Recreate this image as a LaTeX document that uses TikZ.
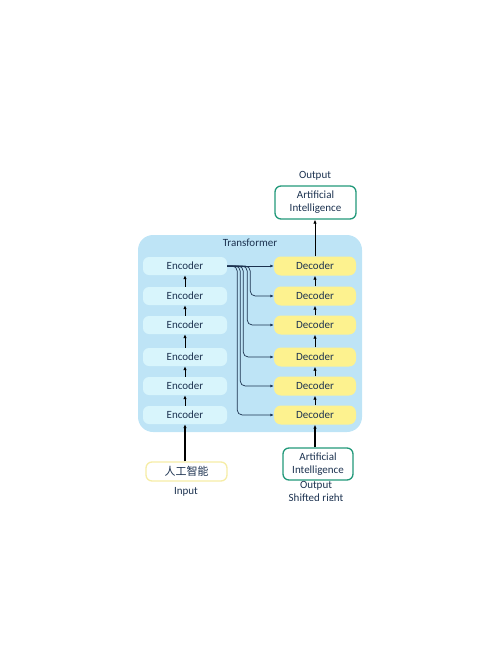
\documentclass[tikz,border=0pt]{standalone}
\usepackage{fontspec}
\setmainfont{Carlito}
\newfontfamily\cjk{Noto Sans CJK SC}
\usetikzlibrary{positioning,arrows.meta,calc}
\definecolor{panel}{HTML}{BEE4F6}
\definecolor{encfill}{HTML}{D8F5FC}
\definecolor{decfill}{HTML}{FDF28F}
\definecolor{aigreen}{HTML}{22997A}
\definecolor{inyellow}{HTML}{F6EDA6}
\definecolor{ink}{HTML}{1C3250}

\begin{document}
\begin{tikzpicture}[x=1pt, y=-1pt, font=\fontsize{11}{13}\selectfont, text=ink,
  enc/.style={fill=encfill, rounded corners=6pt, minimum width=84pt, minimum height=18pt, inner sep=0pt},
  dec/.style={fill=decfill, rounded corners=7pt, minimum width=82pt, minimum height=19pt, inner sep=0pt},
  ai/.style={draw=aigreen, line width=1.3pt, fill=white, rounded corners=6pt, align=center, inner sep=0pt},
  arr/.style={-{Latex[length=4pt,width=3.5pt]}, draw=black, line width=1pt},
  fan/.style={-{Latex[length=3.5pt,width=3pt]}, draw=ink, line width=0.7pt, rounded corners=5pt}]
  \useasboundingbox (0,0) rectangle (500,646);
  \fill[panel, rounded corners=15pt] (138,235) rectangle (362,432);
  \node (TITLE) at (250,243) {Transformer};
  \foreach \i/\y in {1/266,2/296,3/325,4/357,5/386,6/415} {
    \node (ENC\i) [enc] at (185,\y) {Encoder};
    \node (DEC\i) [dec] at (315,\y) {Decoder};
  }
  \foreach \i [evaluate=\i as \j using int(\i+1)] in {1,...,5} {
    \draw[arr, line width=0.9pt] (ENC\j.north) -- (ENC\i.south);
    \draw[arr, line width=0.9pt] (DEC\j.north) -- (DEC\i.south);
  }
  \draw[fan] (ENC1.east) -- (DEC1.west);
  \foreach \i/\x in {2/250,3/247,4/243,5/240,6/237}
    \draw[fan] (ENC1.east) -- ++(\x-227,0) |- (DEC\i.west);

  \node (OUTLBL) at (315,176) {Output};
  \node (AIOUT) [ai, minimum width=81pt, minimum height=33pt] at (315.5,202.5) {Artificial\\Intelligence};
  \draw[arr] (DEC1.north) -- (AIOUT.south -| DEC1.north);

  \node (INPUT) [draw=inyellow, line width=1.3pt, fill=white, rounded corners=6pt,
    minimum width=81pt, minimum height=19pt, inner sep=0pt] at (186.5,471.5) {\cjk 人工智能};
  \node (INLBL) at (186,492) {Input};
  \draw[arr, line width=1.3pt] (INPUT.north -| ENC6.south) -- (ENC6.south);

  \node (AIIN) [ai, minimum width=70pt, minimum height=32pt] at (318,464) {Artificial\\Intelligence};
  \draw[arr, line width=1.3pt] (AIIN.north -| DEC6.south) -- (DEC6.south);
  \node (SHLBL) at (316,486) {Output};
  \begin{scope}
    \clip (250,480) rectangle (380,500.5);
    \node (SHIFT) at (316,498.5) {Shifted right};
  \end{scope}
\end{tikzpicture}
\end{document}
